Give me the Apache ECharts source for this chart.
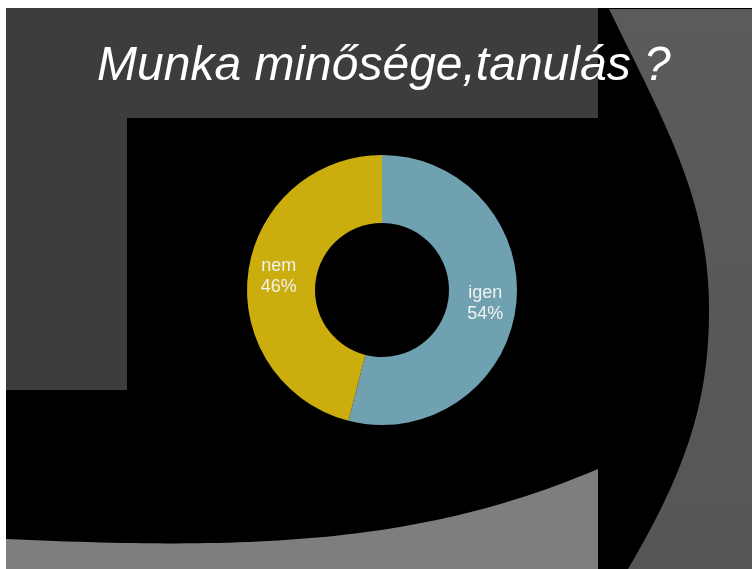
<!DOCTYPE html>
<html>
<head>
<meta charset="utf-8">
<script src="https://cdn.jsdelivr.net/npm/echarts@6/dist/echarts.min.js"></script>
<style>
  html, body { margin: 0; padding: 0; background: #fff; }
  #chart { width: 752px; height: 569px; }
</style>
</head>
<body>
<div id="chart"></div>
<script>
// adatok
const titleText = 'Munka minősége,tanulás ?'
const categories = ['igen', 'nem']
const values = [54, 46]
const colors = ['#6FA1B0', '#CBAD0E']

// görbe pontjai a háttér alakzataihoz
function bezier (p0, p1, p2, p3, n) {
    const pts = []
    for (let k = 0; k <= n; k++) {
        const t = k / n
        const a = (1 - t) * (1 - t) * (1 - t)
        const b = 3 * (1 - t) * (1 - t) * t
        const c = 3 * (1 - t) * t * t
        const d = t * t * t
        pts.push([a * p0[0] + b * p1[0] + c * p2[0] + d * p3[0], a * p0[1] + b * p1[1] + c * p2[1] + d * p3[1]])
    }
    return pts
}

const rightShape = bezier([609, 9], [667, 128], [709, 200], [709, 310], 50)
    .concat(bezier([709, 310], [709, 400], [687, 469], [628, 569], 50))
    .concat([[752, 569], [752, 9]])
const bottomShape = bezier([6, 539], [250, 550], [420, 545], [598, 469], 60).concat([[598, 569], [6, 569]])

const chart = echarts.init(document.getElementById('chart'))

chart.setOption({
    backgroundColor: '#fff',
    animation: false,
    title: {
        text: titleText,
        left: 97,
        top: 43,
        padding: 0,
        textStyle: {
            color: '#fff',
            fontFamily: 'Liberation Sans',
            fontStyle: 'italic',
            fontWeight: 'normal',
            fontSize: 48
        }
    },
    // dia háttere
    graphic: [
        { type: 'rect', z: -10, shape: { x: 6, y: 8, width: 746, height: 561 }, style: { fill: '#000' } },
        { type: 'rect', z: -9, shape: { x: 6, y: 8, width: 592, height: 110 }, style: { fill: '#3d3d3d' } },
        { type: 'rect', z: -9, shape: { x: 6, y: 118, width: 121, height: 272 }, style: { fill: '#3d3d3d' } },
        {
            type: 'polygon', z: -9,
            shape: { points: rightShape },
            style: {
                fill: new echarts.graphic.LinearGradient(0, 0, 0, 1, [{ offset: 0, color: '#5b5b5b' }, { offset: 1, color: '#565656' }])
            }
        },
        {
            type: 'polygon', z: -9,
            shape: { points: bottomShape },
            style: { fill: '#7e7e7e' }
        }
    ],
    series: [
        {
            type: 'pie',
            radius: [67, 135],
            center: [382, 290],
            startAngle: 90,
            clockwise: true,
            silent: true,
            itemStyle: { borderWidth: 0 },
            label: {
                show: true,
                position: 'inside',
                formatter: '{b}\n{d}%',
                color: '#f2f2f2',
                fontFamily: 'Liberation Sans',
                fontSize: 18,
                lineHeight: 21
            },
            labelLine: { show: false },
            data: categories.map((c, i) => ({ name: c, value: values[i], itemStyle: { color: colors[i] } }))
        }
    ]
})
</script>
</body>
</html>
